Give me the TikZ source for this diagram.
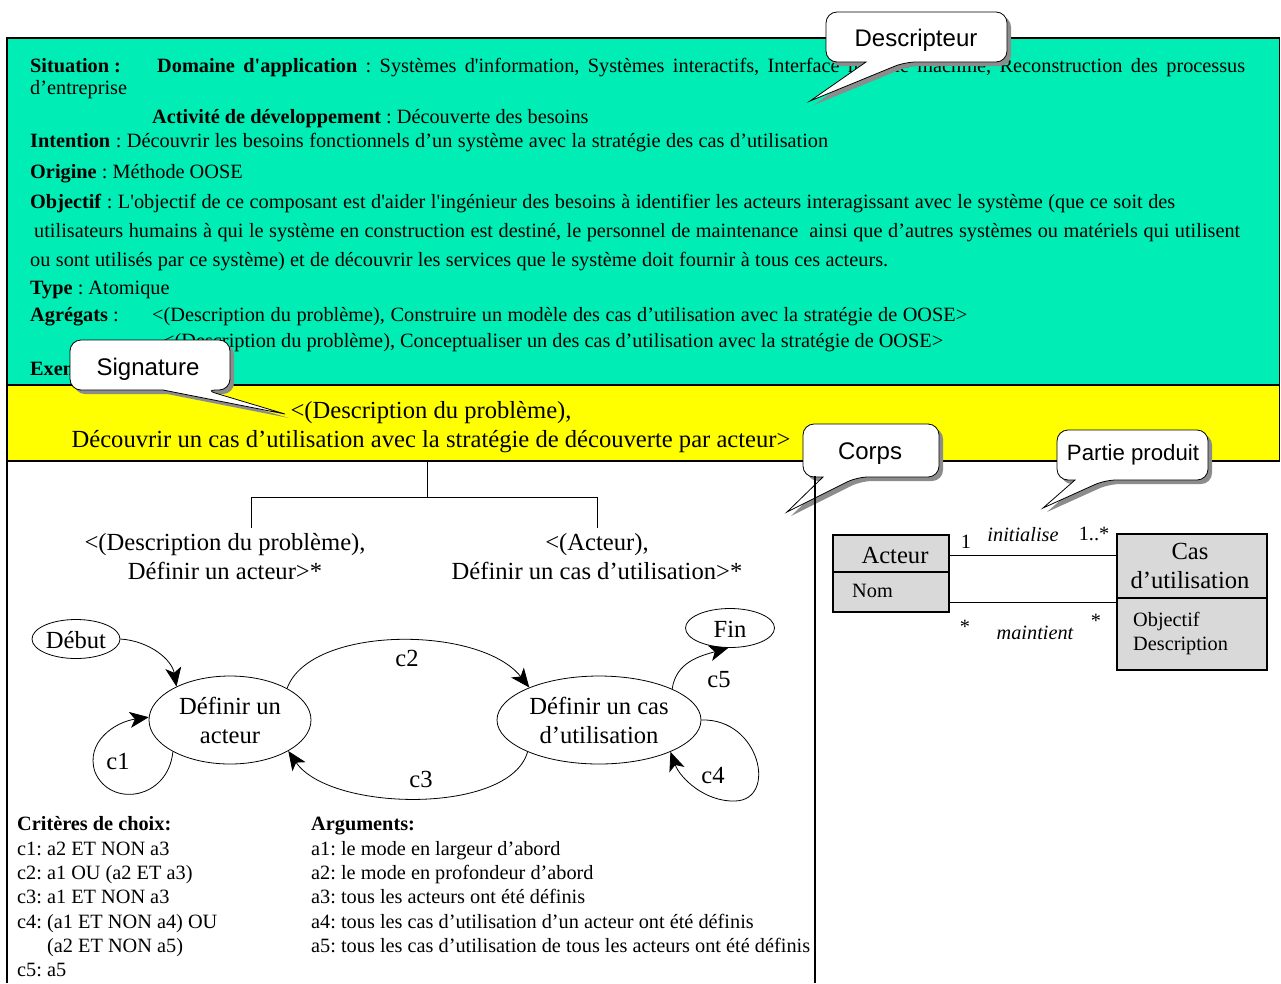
\documentclass[tikz,border=0pt]{standalone}
\usepackage{fontspec}
\setmainfont{Liberation Serif}[Ligatures=TeXOff]
\newfontfamily\calloutfont{Liberation Sans}
\usetikzlibrary{arrows.meta,shadows,shapes.geometric}
\frenchspacing

\definecolor{mint}{RGB}{0,238,181}
\definecolor{bandyellow}{RGB}{255,255,0}
\definecolor{umlgray}{RGB}{217,217,217}

% a line of text stretched or shrunk to a given width (in px)
\newcommand\fitline[2]{\hbox to #1pt{\spaceskip=.25em plus .9em minus .12em\relax #2}}

\begin{document}
\begin{tikzpicture}[x=1pt,y=-1pt,
  txt/.style={inner sep=0pt, anchor=base west, font=\fontsize{20.3}{24}\selectfont},
  midtxt/.style={inner sep=0pt, font=\fontsize{20.3}{24}\selectfont},
  bigtxt/.style={inner sep=0pt, align=center, font=\fontsize{24.6}{29}\selectfont},
  frameline/.style={draw=black, line width=1.6pt},
  state/.style={draw=black, ellipse, line width=0.8pt, inner sep=0pt},
  trans/.style={line width=0.8pt, -{Stealth[length=19pt,width=16pt,inset=5pt]}},
  umlbox/.style={draw=black, line width=1.2pt, fill=umlgray, inner sep=0pt},
  assoc/.style={line width=0.8pt},
  callout/.style={draw=black, line width=0.8pt, fill=white,
    drop shadow={shadow xshift=4pt, shadow yshift=-4pt, fill=black!45, opacity=1}},
  calltxt/.style={inner sep=0pt, font=\calloutfont\fontsize{24}{28}\selectfont},
]
\useasboundingbox (0,0) rectangle (1281,983);
\fill[white] (0,0) rectangle (1281,983);

% ---------- descriptor (green) and signature (yellow) bands ----------
\path[fill=mint, frameline] (7,38) rectangle (1279.5,385);
\path[fill=bandyellow, frameline] (7,385) rectangle (1279.5,461);
\draw[frameline] (7,461) -- (7,983);

% ---------- descriptor text ----------
\node[txt] (sit) at (30,72) {\textbf{Situation :}};
\node[txt] (dom) at (157,72) {\fitline{1088}{\textbf{Domaine d'application} : Systèmes d'information, Systèmes interactifs, Interface homme machine, Reconstruction des processus}};
\node[txt] (ent) at (30,94) {d’entreprise};
\node[txt] (act) at (152,123) {\textbf{Activité de développement} : Découverte des besoins};
\node[txt] (int) at (30,147) {\fitline{798}{\textbf{Intention} : Découvrir les besoins fonctionnels d’un système avec la stratégie des cas d’utilisation}};
\node[txt] (ori) at (30,178) {\textbf{Origine} : Méthode OOSE};
\node[txt] (obj1) at (30,208) {\fitline{1145}{\textbf{Objectif} : L'objectif de ce composant est d'aider l'ingénieur des besoins à identifier les acteurs interagissant avec le système (que ce soit des}};
\node[txt] (obj2) at (34,237) {\fitline{1206}{utilisateurs humains à qui le système en construction est destiné, le personnel de maintenance \ ainsi que d’autres systèmes ou matériels qui utilisent}};
\node[txt] (obj3) at (30,266) {\fitline{858}{ou sont utilisés par ce système) et de découvrir les services que le système doit fournir à tous ces acteurs.}};
\node[txt] (typ) at (30,294) {\textbf{Type} : Atomique};
\node[txt] (agr) at (30,321) {\textbf{Agrégats} :};
\node[txt] (agr1) at (152,321) {\fitline{815}{<(Description du problème), Construire un modèle des cas d’utilisation avec la stratégie de OOSE>}};
\node[txt] (agr2) at (163,347) {\fitline{780}{<(Description du problème), Conceptualiser un des cas d’utilisation avec la stratégie de OOSE>}};
\node[txt] (exe) at (30,375) {\textbf{Exemple} :};

% ---------- signature ----------
\node[bigtxt] (sig) at (431,427) {<(Description du problème),\\Découvrir un cas d’utilisation avec la stratégie de découverte par acteur>};

% ---------- refinement tree ----------
\coordinate (root) at (427,461);
\coordinate (fork) at (427,497);
\node[bigtxt] (subl) at (225,557) {<(Description du problème),\\Définir un acteur>*};
\node[bigtxt] (subr) at (597,557) {<(Acteur),\\Définir un cas d’utilisation>*};
\coordinate (legl) at (251,528);
\coordinate (legr) at (597,528);
\draw[line width=0.8pt] (root) -- (fork);
\draw[line width=0.8pt] (legl) |- (fork) -| (legr);

% ---------- process map ----------
\node[state, minimum width=88pt, minimum height=39pt] (deb) at (76,639) {};
\node[bigtxt] (debt) at (76,640) {Début};
\node[state, minimum width=162pt, minimum height=88pt] (acteur) at (230,720) {};
\node[bigtxt] (acteurt) at (230,720) {Définir un\\acteur};
\node[state, minimum width=204pt, minimum height=88pt] (cas) at (599,720) {};
\node[bigtxt] (cast) at (599,720) {Définir un cas\\d’utilisation};
\node[state, minimum width=89pt, minimum height=39pt] (fin) at (730,628) {};
\node[bigtxt] (fint) at (730,629) {Fin};

\draw[trans] (deb.east) .. controls (150,641) and (172,660) .. (acteur.148);
\draw[trans] (acteur.209) .. controls (168,800) and (110,808) .. (95,772)
  .. controls (85,742) and (115,722) .. (acteur.178);
\draw[trans] (acteur.29) .. controls (310,625) and (480,625) .. (cas.155);
\draw[trans] (cas.204) .. controls (510,815) and (330,812) .. (acteur.332);
\draw[trans] (cas.east) .. controls (760,718) and (778,800) .. (735,801)
  .. controls (705,802) and (680,778) .. (cas.336);
\draw[trans] (cas.23) .. controls (676,662) and (700,656) .. (fin.265);

\node[bigtxt] (lc1) at (118,761) {c1};
\node[bigtxt] (lc2) at (407,658) {c2};
\node[bigtxt] (lc3) at (421,779) {c3};
\node[bigtxt] (lc4) at (713,776) {c4};
\node[bigtxt] (lc5) at (719,680) {c5};

% ---------- choice criteria and arguments ----------
\node[txt] (crit) at (17,830) {\textbf{Critères de choix:}};
\node[txt] (crc1) at (17,855) {c1: a2 ET NON a3};
\node[txt] (crc2) at (17,879) {c2: a1 OU (a2 ET a3)};
\node[txt] (crc3) at (17,903) {c3: a1 ET NON a3};
\node[txt] (crc4) at (17,928) {c4: (a1 ET NON a4) OU};
\node[txt] (crc4b) at (47,952) {(a2 ET NON a5)};
\node[txt] (crc5) at (17,976) {c5: a5};

\node[txt] (arg) at (311,830) {\textbf{Arguments:}};
\node[txt] (arg1) at (311,855) {a1: le mode en largeur d’abord};
\node[txt] (arg2) at (311,879) {a2: le mode en profondeur d’abord};
\node[txt] (arg3) at (311,903) {a3: tous les acteurs ont été définis};
\node[txt] (arg4) at (311,928) {a4: tous les cas d’utilisation d’un acteur ont été définis};
\node[txt] (arg5) at (311,952) {a5: tous les cas d’utilisation de tous les acteurs ont été définis};

% ---------- product part (class diagram) ----------
\node[umlbox, minimum width=116pt, minimum height=77pt] (actbox) at (891,573.5) {};
\draw[line width=1.2pt] (actbox.west |- 0,572) -- (actbox.east |- 0,572);
\node[bigtxt] (actname) at (895,555) {Acteur};
\node[midtxt, anchor=west] (actattr) at (852,591) {Nom};

\node[umlbox, minimum width=150pt, minimum height=136pt] (casbox) at (1192,602) {};
\draw[line width=1.2pt] (casbox.west |- 0,598) -- (casbox.east |- 0,598);
\node[bigtxt] (casname) at (1190,566) {Cas\\d’utilisation};
\node[midtxt, anchor=west, align=left] (casattr) at (1133,634) {Objectif\\Description};

\draw[assoc] (actbox.east |- 0,555) -- (casbox.west |- 0,555);
\draw[assoc] (actbox.east |- 0,602) -- (casbox.west |- 0,602);
\node[midtxt] (m1) at (966,542) {1};
\node[midtxt, font=\fontsize{20.3}{24}\selectfont\itshape] (ini) at (1023,535) {initialise};
\node[midtxt] (m2) at (1094,534) {1..*};
\node[midtxt] (m3) at (965,627) {*};
\node[midtxt, font=\fontsize{20.3}{24}\selectfont\itshape] (mai) at (1035,633) {maintient};
\node[midtxt] (m4) at (1096,621) {*};

% ---------- callouts ----------
\path[callout] (826,40) [rounded corners=11pt] -- (826,12) -- (1007,12) -- (1007,62) -- (905,62)
  [sharp corners] -- (810,101) -- (866,62) [rounded corners=11pt] -- (826,62) -- cycle;
\node[calltxt] (cdes) at (916,40) {Descripteur};

\path[callout] (70,365) [rounded corners=11pt] -- (70,340) -- (230,340) -- (230,390) -- (205,390)
  [sharp corners] -- (285,414) -- (163,390) [rounded corners=11pt] -- (70,390) -- cycle;
\node[calltxt] (csig) at (148,369) {Signature};

\path[callout] (803,450) [rounded corners=11pt] -- (803,424) -- (939,424) -- (939,477) -- (857,477)
  [sharp corners] -- (787,512) -- (823,477) [rounded corners=11pt] -- (803,477) -- cycle;
\node[calltxt] (ccor) at (870,454) {Corps};

\path[callout] (1057,455) [rounded corners=11pt] -- (1057,430) -- (1208,430) -- (1208,480) -- (1105,480)
  [sharp corners] -- (1043,508) -- (1075,480) [rounded corners=11pt] -- (1057,480) -- cycle;
\node[calltxt, font=\calloutfont\fontsize{22.2}{26}\selectfont] (cpro) at (1133,455) {Partie produit};

% body / product separator
\draw[frameline] (815,476) -- (815,983);
\end{tikzpicture}
\end{document}
